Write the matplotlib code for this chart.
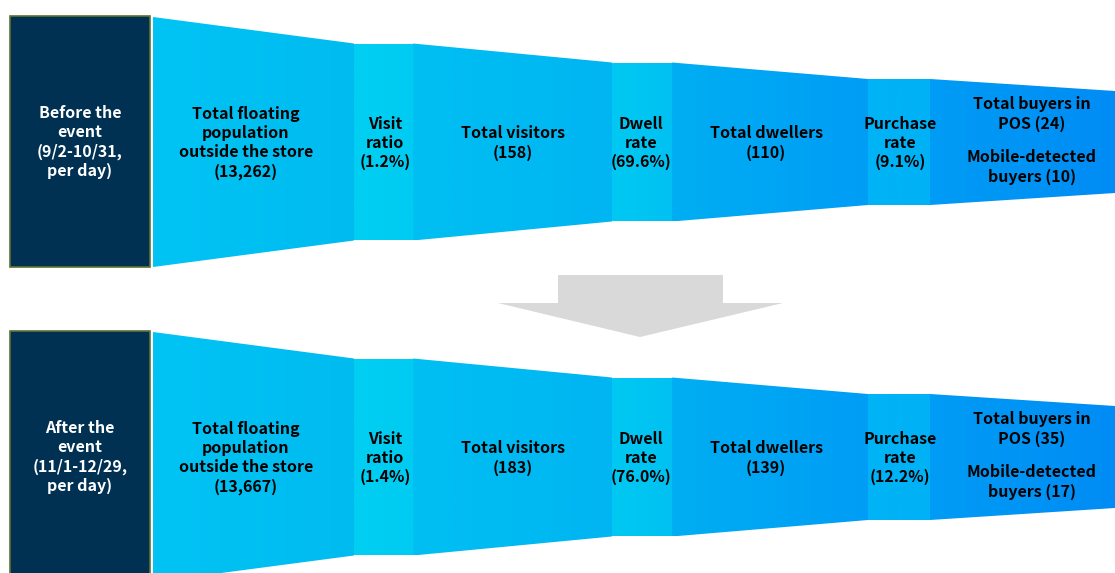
import numpy as np
import matplotlib.pyplot as plt
from matplotlib.patches import Polygon, Rectangle
from matplotlib.colors import to_rgb

# data
periods = ["Before the\nevent\n(9/2-10/31,\nper day)",
           "After the\nevent\n(11/1-12/29,\nper day)"]
stage_labels = ["Total floating\npopulation\noutside the store",
                "Visit\nratio", "Total visitors", "Dwell\nrate",
                "Total dwellers", "Purchase\nrate", "Total buyers in\nPOS"]
before_vals = ["13,262", "1.2%", "158", "69.6%", "110", "9.1%", "24"]
after_vals = ["13,667", "1.4%", "183", "76.0%", "139", "12.2%", "35"]
mobile_buyers = ["10", "17"]

# layout (pixel space)
edges = [153, 354, 413, 612, 672, 868, 930, 1115]
half = [125, 98.5, 79.5, 63, 51]
label_x = [246, 385, 513, 641, 766, 900, 1032]
row_y = [142, 457]
shades = [("#00C4F4", "#00BBF0"), ("#00CFF2", "#00CBF2"),
          ("#00BFF2", "#00B5F2"), ("#00C9F2", "#00C1F2"),
          ("#00AEF2", "#009DF6"), ("#00B4F6", "#00B1F6"),
          ("#009CF5", "#008CF4")]
fs = 11.5
ls = 1.25

plt.rcParams['font.family'] = ['Noto Sans CJK KR', 'DejaVu Sans']

fig = plt.figure(figsize=(11.15, 5.73), dpi=100)
ax = fig.add_axes([0, 0, 1, 1])


def grad_poly(xs, ys, c0, c1):
    poly = Polygon(list(zip(xs, ys)), closed=True, facecolor='none',
                   edgecolor='none')
    ax.add_patch(poly)
    n = 64
    t = np.linspace(0, 1, n)[:, None]
    cols = (1 - t) * np.array(to_rgb(c0)) + t * np.array(to_rgb(c1))
    img = ax.imshow(cols[None, :, :], extent=[min(xs), max(xs), max(ys), min(ys)],
                    aspect='auto', interpolation='bilinear', zorder=1)
    img.set_clip_path(poly)


for r, (yc, vals) in enumerate(zip(row_y, [before_vals, after_vals])):
    # period box
    ax.add_patch(Rectangle((10, yc - 126), 140, 251, facecolor='#003153',
                           edgecolor='#5E7233', lw=1.2, zorder=2))
    ax.text(80, yc, periods[r], color='white', ha='center', va='center',
            fontsize=fs, fontweight='bold', linespacing=ls, zorder=3)

    # funnel segments
    for i in range(7):
        x0, x1 = edges[i], edges[i + 1]
        if i % 2 == 0:
            h0, h1 = half[i // 2], half[i // 2 + 1]
        else:
            h0 = h1 = half[(i + 1) // 2]
        xs = [x0, x1, x1, x0]
        ys = [yc - h0, yc - h1, yc + h1, yc + h0]
        grad_poly(xs, ys, *shades[i])

    # labels
    for i in range(6):
        ax.text(label_x[i], yc + 1, stage_labels[i] + "\n(" + vals[i] + ")",
                ha='center', va='center', fontsize=fs, fontweight='bold',
                linespacing=ls, zorder=3)
    ax.text(label_x[6], yc - 28, stage_labels[6] + " (" + vals[6] + ")",
            ha='center', va='center', fontsize=fs, fontweight='bold',
            linespacing=ls, zorder=3)
    ax.text(label_x[6], yc + 25, "Mobile-detected\nbuyers (" + mobile_buyers[r] + ")",
            ha='center', va='center', fontsize=fs, fontweight='bold',
            linespacing=ls, zorder=3)

# arrow between rows
arrow = Polygon([(558, 275), (723, 275), (723, 303), (783, 303), (640, 337),
                 (498, 303), (558, 303)], closed=True, facecolor='#D9D9D9',
                edgecolor='none')
ax.add_patch(arrow)

ax.set_xlim(0, 1115)
ax.set_ylim(573, 0)
ax.axis('off')

fig.savefig('out.png', dpi=100)
